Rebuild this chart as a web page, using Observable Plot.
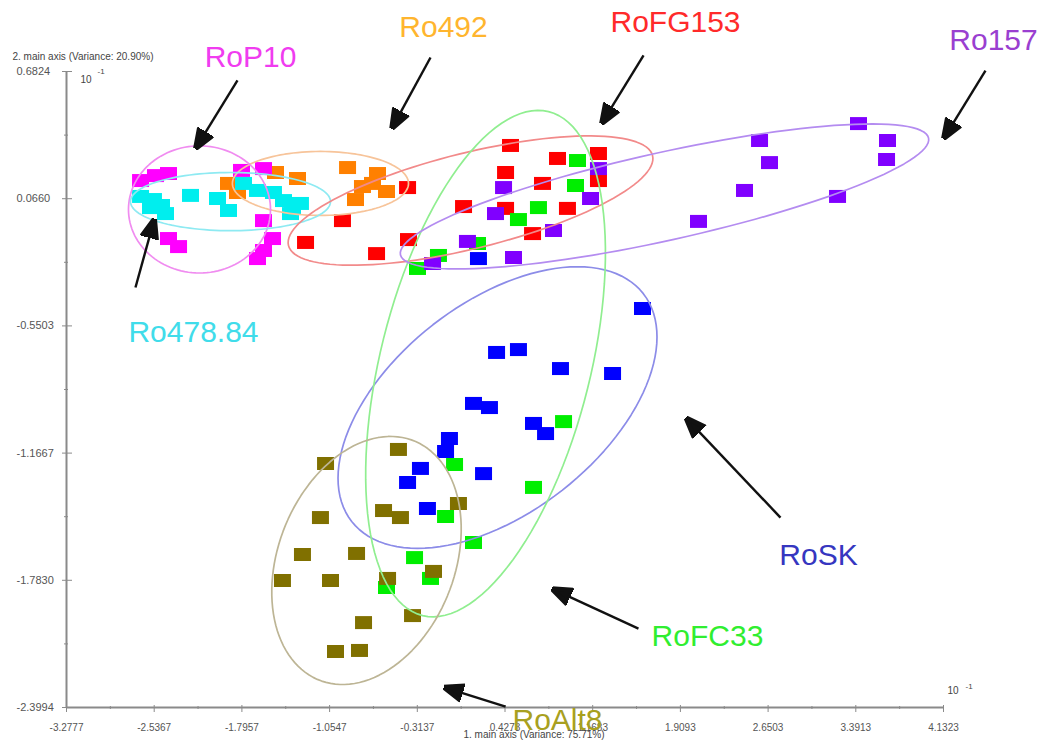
<!DOCTYPE html>
<html>
<head>
<meta charset="utf-8">
<script src="https://cdn.jsdelivr.net/npm/d3@7"></script>
<script src="https://cdn.jsdelivr.net/npm/@observablehq/plot@0.6"></script>
<style>
  html, body { margin: 0; padding: 0; background: #fff; }
  #chart { width: 1043px; height: 746px; overflow: hidden; }
</style>
</head>
<body>
<div id="chart"></div>
<script>
// ---------- axis ticks (values ×10^-1) ----------
const xTickValues = [-3.2777, -2.5367, -1.7957, -1.0547, -0.3137, 0.4273, 1.1683, 1.9093, 2.6503, 3.3913, 4.1323];
const xTickLabels = ["-3.2777", "-2.5367", "-1.7957", "-1.0547", "-0.3137", "0.4273", "1.1683", "1.9093", "2.6503", "3.3913", "4.1323"];
const yTickValues = [0.6824, 0.0660, -0.5503, -1.1667, -1.7830, -2.3994];
const yTickLabels = ["0.6824", "0.0660", "-0.5503", "-1.1667", "-1.7830", "-2.3994"];
const xAxisTitle = "1. main axis (Variance: 75.71%)";
const yAxisTitle = "2. main axis (Variance: 20.90%)";

// ---------- groups (drawing order) ----------
const groups = ["Ro492", "RoP10", "Ro478.84", "RoFG153", "RoSK", "RoFC33", "Ro157", "RoAlt8"];

// ---------- scores [axis1, axis2] per group ----------
const ptsRo492 = [[-1.909,0.140],[-1.833,0.096],[-1.512,0.193],[-1.326,0.164],[-0.903,0.217],[-0.650,0.188],[-0.692,0.140],[-0.574,0.101],[-0.836,0.062],[-0.777,0.125]];
const ptsRoP10 = [[-2.652,0.154],[-2.526,0.178],[-2.416,0.188],[-1.799,0.203],[-1.613,0.212],[-1.613,-0.040],[-2.416,-0.127],[-2.331,-0.166],[-1.537,-0.127],[-1.613,-0.185],[-1.664,-0.224]];
const ptsRo47884 = [[-2.652,0.077],[-2.543,0.062],[-2.568,0.023],[-2.475,0.033],[-2.441,-0.006],[-2.230,0.082],[-2.002,0.067],[-1.909,0.009],[-1.782,0.140],[-1.664,0.106],[-1.529,0.096],[-1.444,0.057],[-1.368,0.023],[-1.301,0.043],[-1.385,-0.006]];
const ptsRoFG153 = [[0.474,0.324],[0.871,0.261],[1.217,0.285],[0.432,0.193],[0.744,0.140],[1.217,0.154],[0.077,0.028],[0.432,0.019],[0.955,0.019],[0.660,-0.103],[-0.396,0.120],[-0.946,-0.040],[-1.258,-0.146],[-0.388,-0.132],[-0.658,-0.200]];
const ptsRoSK = [[1.589,-0.466],[0.356,-0.679],[0.541,-0.665],[0.896,-0.757],[1.336,-0.781],[0.161,-0.926],[0.296,-0.946],[0.668,-1.023],[0.770,-1.072],[-0.042,-1.096],[-0.075,-1.159],[-0.287,-1.241],[-0.396,-1.309],[0.246,-1.266],[-0.228,-1.435],[0.203,-0.224]];
const ptsRoFC33 = [[1.040,0.251],[1.023,0.130],[0.710,0.023],[0.541,-0.035],[0.195,-0.151],[-0.135,-0.209],[-0.312,-0.272],[0.922,-1.014],[0.001,-1.222],[0.668,-1.333],[-0.075,-1.474],[0.161,-1.600],[-0.337,-1.673],[-0.202,-1.774],[-0.574,-1.818]];
const ptsRo157 = [[0.415,0.120],[1.217,0.212],[1.150,0.067],[0.347,-0.006],[0.837,-0.088],[0.110,-0.141],[-0.185,-0.248],[0.499,-0.219],[2.062,-0.044],[2.451,0.106],[2.662,0.241],[2.578,0.348],[3.414,0.430],[3.659,0.348],[3.651,0.256],[3.237,0.077]];
const ptsRoAlt8 = [[-0.473,-1.149],[-1.089,-1.217],[-1.132,-1.479],[-0.599,-1.445],[-0.456,-1.479],[0.034,-1.411],[-1.284,-1.658],[-0.827,-1.653],[-1.453,-1.784],[-1.047,-1.784],[-0.565,-1.774],[-0.177,-1.740],[-0.354,-1.954],[-0.768,-1.988],[-1.005,-2.128],[-0.802,-2.123]];
const groupPoints = [ptsRo492, ptsRoP10, ptsRo47884, ptsRoFG153, ptsRoSK, ptsRoFC33, ptsRo157, ptsRoAlt8];

// ---------- confidence ellipses: centre and two conjugate semi-axes (data units) ----------
const ellipseCX = [-1.132, -2.154, -1.892, 0.136, 0.364, 0.263, 1.775, -0.743];
const ellipseCY = [0.140, 0.014, 0.052, 0.057, -0.946, -0.733, 0.077, -1.687];
const ellipseUX = [0.744, 0.600, 0.845, 1.538, 1.232, 0.532, 2.231, 0.101];
const ellipseUY = [0.000, 0.000, 0.000, 0.218, 0.552, 1.221, 0.283, 0.596];
const ellipseVX = [0.000, 0.000, 0.000, 0.097, 0.546, 0.862, 0.080, 0.794];
const ellipseVY = [0.155, 0.308, 0.141, -0.225, -0.401, -0.121, -0.208, 0.078];

// ---------- group labels and arrows (data units) ----------
const labelX = [-0.092, -1.723, -2.205, 1.868, 3.076, 2.138, 4.555, 0.871];
const labelY = [0.896, 0.750, -0.582, 0.920, -1.663, -2.055, 0.833, -2.462];
const arrowX1 = [-0.202, -1.833, -2.695, 1.598, 2.755, 1.555, 4.487, 0.432];
const arrowY1 = [0.750, 0.639, -0.364, 0.760, -1.479, -2.017, 0.687, -2.395];
const arrowX2 = [-0.515, -2.171, -2.543, 1.260, 1.978, 0.854, 4.149, -0.059];
const arrowY2 = [0.421, 0.324, -0.049, 0.445, -1.009, -1.832, 0.372, -2.307];

// ---------- styles ----------
const pointColor   = ["#ff8000", "#ff00ff", "#00eeee", "#ff0000", "#0000ff", "#00ee00", "#8000ff", "#807000"];
const ellipseColor = ["#f7c49a", "#f08cf0", "#8eeaf2", "#f28a8a", "#8c8ce8", "#90ee90", "#b48cf0", "#bdb595"];
const labelColor   = ["#ffb52e", "#f03cf0", "#40dcea", "#ff2a2a", "#3636c0", "#30ee30", "#9a3fd0", "#a8a020"];

// rectangle symbol for the score markers
const rectSymbol = { draw(ctx) { ctx.rect(-8.5, -6.5, 17, 13); } };

// filled arrow head marker
function headMarker(color) {
  const m = d3.create("svg:marker")
    .attr("viewBox", "-5 -5 10 10")
    .attr("markerWidth", 20)
    .attr("markerHeight", 20)
    .attr("markerUnits", "userSpaceOnUse")
    .attr("refX", 3)
    .attr("orient", "auto");
  m.append("path").attr("d", "M-5,-3.8L5,0L-5,3.8Z").attr("fill", color);
  return m.node();
}

// ellipse outlines
const ellipseLines = groups.map((g, i) => {
  const pts = d3.range(0, 121).map(k => {
    const t = (k / 120) * 2 * Math.PI;
    return {
      x: ellipseCX[i] + ellipseUX[i] * Math.cos(t) + ellipseVX[i] * Math.sin(t),
      y: ellipseCY[i] + ellipseUY[i] * Math.cos(t) + ellipseVY[i] * Math.sin(t)
    };
  });
  return Plot.line(pts, { x: "x", y: "y", stroke: ellipseColor[i], strokeWidth: 1.7, curve: "linear" });
});

const pointMarks = groups.map((g, i) =>
  Plot.dot(groupPoints[i], { x: d => d[0], y: d => d[1], symbol: rectSymbol, fill: pointColor[i], stroke: "none" })
);

const idx = d3.range(groups.length);
const yMinor = d3.range(yTickValues.length - 1).map(i => (yTickValues[i] + yTickValues[i + 1]) / 2);
const xMinor = d3.range(xTickValues.length - 1).map(i => (xTickValues[i] + xTickValues[i + 1]) / 2);
const xMin = xTickValues[0], yMin = yTickValues[yTickValues.length - 1];

const chart = Plot.plot({
  width: 1043,
  height: 746,
  marginLeft: 66,
  marginRight: 100,
  marginTop: 71,
  marginBottom: 39,
  style: { fontFamily: "'Liberation Sans', Arial, sans-serif", fontSize: "10px", background: "#fff" },
  x: { domain: [xTickValues[0], xTickValues[xTickValues.length - 1]], label: null },
  y: { domain: [yMin, yTickValues[0]], label: null },
  marks: [
    // axis lines
    Plot.ruleX([xMin], { stroke: "#8a8a8a", strokeWidth: 2 }),
    Plot.ruleY([yMin], { stroke: "#8a8a8a", strokeWidth: 2 }),
    // y ticks
    Plot.axisY(yTickValues, { tickSize: 10, dx: 6, tickFormat: () => "", stroke: "#8a8a8a", label: null }),
    Plot.axisY(yMinor, { tickSize: 4, dx: 2, tickFormat: () => "", stroke: "#8a8a8a", label: null }),
    Plot.axisY(yTickValues, {
      tickSize: 0, tickPadding: 0, dx: -50, textAnchor: "start",
      tickFormat: d => yTickLabels[yTickValues.indexOf(d)],
      fill: "#555", fontSize: 11, label: null
    }),
    // x ticks
    Plot.axisX(xTickValues, { tickSize: 7, dy: -2, tickFormat: () => "", stroke: "#8a8a8a", label: null }),
    Plot.axisX(xMinor, { tickSize: 3, dy: -1, tickFormat: () => "", stroke: "#8a8a8a", label: null }),
    Plot.axisX(xTickValues, {
      tickSize: 0, tickPadding: 16,
      tickFormat: d => xTickLabels[xTickValues.indexOf(d)],
      fill: "#555", fontSize: 10, label: null
    }),
    // axis titles and exponents
    Plot.text([yAxisTitle], { frameAnchor: "top-left", text: d => d, dx: -54, dy: -19, textAnchor: "start", fill: "#444", fontSize: 10 }),
    Plot.text([xAxisTitle], { frameAnchor: "bottom", text: d => d, dx: 29, dy: 30, fill: "#444", fontSize: 10 }),
    Plot.text(["10"], { frameAnchor: "top-left", text: d => d, dx: 14, dy: 4, textAnchor: "start", fill: "#444", fontSize: 10 }),
    Plot.text(["-1"], { frameAnchor: "top-left", text: d => d, dx: 31, dy: -3, textAnchor: "start", fill: "#444", fontSize: 8 }),
    Plot.text(["10"], { frameAnchor: "bottom-right", text: d => d, dx: 4, dy: -14, textAnchor: "start", fill: "#444", fontSize: 10 }),
    Plot.text(["-1"], { frameAnchor: "bottom-right", text: d => d, dx: 22, dy: -19, textAnchor: "start", fill: "#444", fontSize: 8 }),
    // scores
    ...pointMarks,
    // ellipses
    ...ellipseLines,
    // arrows
    Plot.link(idx, {
      x1: i => arrowX1[i], y1: i => arrowY1[i], x2: i => arrowX2[i], y2: i => arrowY2[i],
      stroke: "#111", strokeWidth: 2.4, markerEnd: headMarker
    }),
    // group labels
    ...groups.map((g, i) =>
      Plot.text([g], { x: () => labelX[i], y: () => labelY[i], text: d => d, fill: labelColor[i], fontSize: 30, fontFamily: "'Liberation Sans', Arial, sans-serif" })
    )
  ]
});

document.getElementById("chart").appendChild(chart);
</script>
</body>
</html>
